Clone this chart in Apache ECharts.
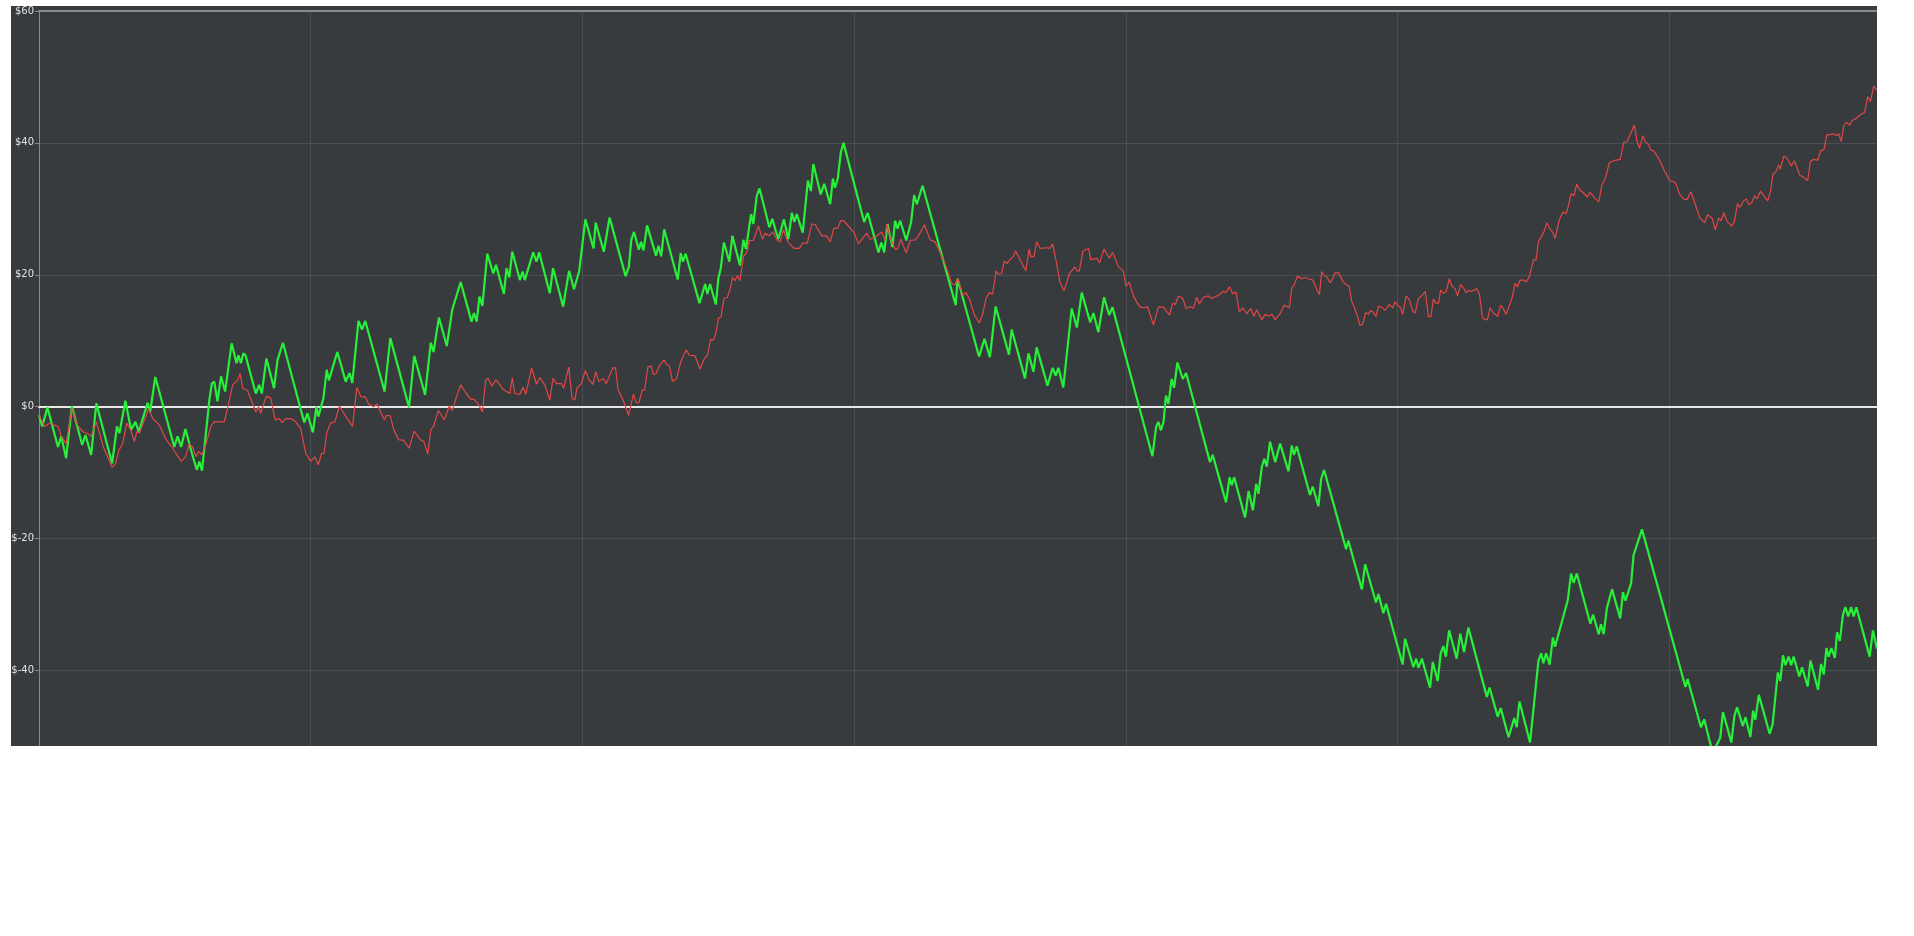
<!DOCTYPE html>
<html>
<head>
<meta charset="utf-8">
<title>Equity curves</title>
<script src="https://cdn.jsdelivr.net/npm/echarts@6/dist/echarts.min.js"></script>
<style>
    html, body { margin: 0; padding: 0; background: #ffffff; }
    #frame {
        position: absolute; left: 11px; top: 6px;
        width: 1866px; height: 740px;
        overflow: hidden; background: #383b3e;
    }
    #chart { width: 1870px; height: 820px; }
</style>
</head>
<body>
<div id="frame"><div id="chart"></div></div>
<script>
// y axis ticks ($)
var yTicks = [-60, -40, -20, 0, 20, 40, 60];

// green curve: turning points (bar index, value)
var greenIdx = [0, 1.2, 3.1, 7.0, 8.2, 10.0, 12.1, 15.9, 17.1, 19.2, 21.1, 26.9, 28.7, 29.6, 31.8, 33.9, 35.5, 36.7, 40.0, 40.9,
    42.8, 49.8, 51.0, 52.3, 53.9, 56.3, 58.1, 59.0, 60.0, 62.7, 63.6, 64.5, 65.7, 67.0, 68.5, 70.9, 72.7, 73.4, 74.3, 75.2,
    76.0, 79.8, 81.0, 82.0, 83.7, 86.5, 87.8, 89.8, 97.6, 98.8, 100.8, 102.1, 102.8, 104.7, 105.9, 106.7, 109.8, 112.9, 114.3, 115.3,
    117.6, 118.9, 120.1, 127.2, 129.3, 136.2, 138.1, 142.1, 144.2, 145.2, 147.2, 150.1, 152.1, 155.2, 159.2, 160.1, 161.1, 162.1, 163.2, 165.0,
    167.2, 168.2, 171.1, 172.1, 173.1, 174.2, 177.0, 178.0, 178.8, 181.9, 183.1, 184.1, 188.0, 189.2, 192.9, 195.1, 196.9, 198.8, 201.1, 204.1,
    204.9, 207.9, 210.0, 215.9, 217.1, 218.0, 219.0, 220.8, 221.6, 222.5, 223.8, 227.1, 228.0, 229.0, 230.1, 235.1, 236.2, 237.0, 238.0, 243.1,
    245.2, 246.0, 247.0, 249.1, 250.1, 250.9, 252.1, 254.1, 255.2, 258.0, 259.3, 260.2, 262.1, 262.9, 264.2, 265.2, 268.8, 269.9, 272.1, 274.2,
    275.8, 277.1, 278.0, 278.9, 281.1, 283.0, 284.1, 285.0, 287.7, 289.0, 291.2, 292.2, 293.0, 294.0, 295.1, 296.1, 303.7, 305.0, 309.0, 310.0,
    311.1, 312.3, 314.1, 315.1, 316.0, 317.0, 319.2, 321.0, 322.1, 323.1, 325.2, 337.4, 338.1, 346.0, 348.0, 350.0, 352.1, 357.0, 358.0, 362.9,
    364.2, 366.0, 367.2, 371.2, 373.1, 374.2, 375.2, 377.0, 380.1, 382.0, 383.8, 386.9, 388.1, 389.9, 392.0, 393.9, 395.1, 409.8, 411.2, 412.0,
    412.9, 413.9, 414.8, 415.7, 416.9, 417.8, 419.0, 421.0, 422.2, 431.0, 432.0, 436.9, 438.2, 439.0, 439.9, 443.9, 445.2, 446.8, 448.0, 448.8,
    450.1, 451.0, 451.9, 453.1, 455.0, 456.8, 459.9, 461.1, 461.9, 462.9, 467.8, 468.8, 470.9, 471.9, 473.0, 481.1, 481.9, 486.9, 488.1, 492.1,
    493.0, 494.8, 495.8, 501.9, 502.8, 505.9, 506.9, 507.7, 509.0, 512.0, 513.0, 514.8, 515.9, 516.9, 517.8, 519.0, 521.8, 523.1, 524.5, 526.1,
    532.9, 533.9, 536.9, 538.0, 540.9, 543.0, 543.9, 544.9, 548.8, 551.9, 552.9, 553.7, 554.7, 556.0, 557.2, 558.0, 562.7, 563.9, 564.8, 566.0,
    571.0, 572.0, 574.1, 574.9, 575.9, 577.1, 579.0, 582.0, 583.0, 583.9, 586.0, 586.9, 590.0, 606.0, 606.8, 611.7, 612.9, 616.0, 618.8, 619.8,
    622.9, 624.0, 625.0, 627.1, 628.1, 629.9, 630.9, 631.7, 633.0, 637.0, 638.1, 640.0, 640.9, 641.9, 642.8, 644.0, 644.9, 645.8, 647.9, 648.9,
    651.0, 652.0, 654.8, 655.9, 656.9, 657.9, 658.7, 659.7, 661.0, 661.8, 662.8, 664.0, 664.9, 665.9, 667.0, 667.9, 668.9, 673.8, 675.0, 676.5];
var greenVal = [-1.3, -3.0, -0.1, -6.1, -4.5, -7.8, 0.1, -5.8, -4.3, -7.3, 0.5, -8.6, -3.0, -4.0, 0.9, -3.5, -2.3, -3.8, 0.6, -0.8,
    4.5, -6.1, -4.5, -6.1, -3.4, -7.1, -9.6, -8.3, -9.7, 1.0, 3.5, 3.8, 0.8, 4.6, 2.3, 9.6, 6.6, 7.8, 6.6, 8.1,
    7.8, 2.0, 3.3, 2.0, 7.3, 2.8, 7.1, 9.7, -2.4, -1.0, -3.9, 0, -1.5, 1.3, 5.6, 4.0, 8.3, 3.8, 5.1, 3.6,
    13.0, 11.7, 13.0, 2.3, 10.4, -0.1, 7.7, 1.8, 9.7, 8.3, 13.5, 9.2, 14.7, 18.9, 12.9, 14.2, 12.9, 16.7, 15.3, 23.2,
    20.2, 21.5, 17.1, 21.0, 19.6, 23.5, 19.2, 20.5, 19.2, 23.4, 22.0, 23.4, 17.2, 21.0, 15.2, 20.6, 17.8, 20.5, 28.4, 24.0,
    27.9, 23.5, 28.7, 19.8, 21.2, 25.3, 26.5, 23.8, 25.0, 23.7, 27.5, 22.9, 24.4, 22.8, 26.9, 19.3, 23.3, 22.0, 23.2, 15.7,
    18.6, 17.1, 18.6, 15.5, 19.6, 20.9, 24.9, 22.0, 25.9, 21.4, 25.3, 23.9, 29.2, 27.7, 32.0, 33.1, 27.2, 28.5, 25.4, 28.4,
    25.4, 29.4, 28.0, 29.2, 26.4, 34.3, 32.7, 36.8, 32.2, 33.8, 30.7, 34.6, 33.2, 34.6, 38.5, 40.0, 28.0, 29.4, 23.4, 24.9,
    23.4, 27.7, 24.2, 28.2, 27.0, 28.2, 25.2, 28.0, 32.1, 30.7, 33.5, 15.4, 19.4, 7.6, 10.3, 7.5, 15.2, 7.9, 11.7, 4.3,
    8.1, 5.3, 9.0, 3.2, 5.9, 4.7, 5.9, 2.9, 14.9, 12.0, 17.3, 12.8, 14.2, 11.3, 16.6, 13.9, 15.1, -7.5, -3.0, -2.3,
    -3.6, -2.3, 1.7, 0.4, 4.2, 2.9, 6.7, 4.2, 5.1, -8.4, -7.3, -14.5, -10.7, -11.9, -10.7, -16.8, -12.8, -15.7, -11.7, -13.2,
    -9.1, -7.9, -9.1, -5.3, -8.4, -5.6, -9.8, -5.9, -7.3, -6.0, -13.4, -12.1, -15.1, -11.0, -9.6, -21.6, -20.3, -27.7, -23.9, -29.7,
    -28.4, -31.3, -29.9, -39.1, -35.2, -39.5, -38.2, -39.6, -38.2, -42.6, -38.7, -41.6, -37.4, -36.3, -37.9, -33.9, -38.2, -34.4, -37.2, -33.5,
    -44.0, -42.6, -47.0, -45.7, -50.1, -47.2, -48.6, -44.7, -50.9, -38.5, -37.4, -38.9, -37.4, -39.1, -35.0, -36.4, -29.3, -25.3, -26.7, -25.3,
    -32.9, -31.5, -34.5, -33.0, -34.5, -30.5, -27.7, -32.1, -28.1, -29.4, -26.8, -22.5, -18.6, -42.5, -41.3, -48.6, -47.4, -52.5, -50.2, -46.3,
    -50.9, -46.9, -45.6, -48.4, -47.1, -50.1, -46.1, -47.5, -43.7, -49.6, -48.1, -40.3, -41.6, -37.7, -39.2, -37.9, -39.2, -37.9, -40.9, -39.5,
    -42.4, -38.5, -42.9, -39.0, -40.6, -36.6, -37.9, -36.6, -38.1, -34.2, -35.5, -31.5, -30.4, -31.8, -30.4, -31.8, -30.4, -37.9, -33.9, -36.7];

// red curve: sampled points (bar index, value)
var redIdx = [0, 2.1, 3.9, 5.8, 7.0, 8.2, 8.8, 10.0, 12.1, 14.3, 16.2, 18.0, 19.2, 21.1, 23.7, 26.9, 28.2, 29.4, 30.8, 32.3,
    33.7, 35.1, 36.0, 37.0, 40.3, 41.9, 44.3, 46.8, 49.2, 52.3, 53.9, 55.3, 56.5, 57.8, 58.8, 60.0, 61.5, 63.3, 64.5, 65.7,
    68.2, 69.8, 71.3, 73.1, 74.0, 75.0, 76.7, 78.3, 79.8, 80.8, 81.6, 83.7, 85.3, 86.9, 88.4, 89.6, 90.8, 92.7, 94.5, 96.3,
    98.2, 100.0, 101.5, 102.8, 104.0, 104.9, 105.9, 107.3, 108.9, 110.6, 112.2, 115.4, 117.0, 118.5, 120.1, 121.3, 123.1, 124.4, 127.1, 128.0,
    129.3, 130.5, 132.3, 134.2, 136.2, 138.1, 140.3, 141.7, 143.1, 144.2, 145.2, 147.0, 149.2, 151.0, 152.1, 153.5, 155.2, 156.8, 158.9, 160.1,
    161.7, 163.2, 164.4, 165.4, 166.6, 168.2, 170.9, 173.3, 174.2, 175.1, 177.0, 178.2, 179.2, 181.3, 183.1, 184.3, 186.2, 188.0, 189.2, 190.5,
    192.3, 193.1, 195.0, 196.2, 197.2, 198.0, 199.6, 201.1, 202.4, 203.9, 204.9, 206.1, 207.6, 208.8, 211.2, 212.2, 213.1, 214.9, 217.0, 218.8,
    219.8, 220.8, 222.0, 222.9, 224.1, 225.3, 226.1, 227.1, 228.3, 230.1, 231.0, 232.0, 233.2, 234.7, 236.2, 238.2, 239.4, 241.5, 243.3, 244.9,
    246.0, 247.2, 248.2, 249.2, 250.1, 251.0, 252.1, 253.4, 254.4, 255.3, 256.2, 257.1, 258.0, 259.3, 260.5, 261.5, 262.9, 264.8, 266.3, 267.2,
    268.8, 270.1, 271.8, 272.8, 274.0, 275.6, 277.9, 279.9, 281.1, 282.8, 284.4, 285.7, 287.3, 288.1, 289.9, 291.2, 292.6, 293.9, 295.1, 296.1,
    297.9, 300.0, 301.6, 303.5, 304.7, 305.9, 307.7, 310.2, 311.4, 312.0, 313.5, 315.1, 316.0, 317.2, 319.2, 320.6, 322.5, 323.7, 325.9, 328.0,
    329.8, 331.7, 333.9, 336.0, 337.2, 338.1, 340.0, 341.2, 342.7, 344.2, 346.1, 347.3, 348.6, 349.8, 351.0, 352.3, 353.1, 354.3, 355.3, 356.2,
    357.4, 358.6, 359.5, 361.7, 363.2, 364.4, 365.1, 366.2, 367.2, 368.5, 371.2, 372.1, 373.1, 374.6, 375.8, 377.3, 379.3, 381.3, 382.0, 382.9,
    384.2, 386.3, 387.1, 389.3, 390.3, 392.0, 394.0, 395.2, 397.3, 399.1, 400.1, 401.3, 402.8, 404.0, 405.3, 407.1, 408.0, 410.2, 412.0, 413.9,
    416.1, 417.3, 418.2, 419.4, 421.0, 422.2, 423.7, 424.9, 426.1, 427.1, 428.6, 430.4, 431.7, 434.1, 436.0, 436.9, 438.2, 439.4, 440.6, 441.8,
    443.1, 444.5, 446.0, 447.2, 448.2, 450.1, 451.3, 452.5, 453.8, 455.0, 456.8, 458.3, 459.0, 460.2, 461.1, 461.9, 463.2, 464.8, 466.0, 467.2,
    468.8, 470.3, 471.3, 472.1, 473.0, 474.0, 475.2, 476.2, 477.0, 478.3, 479.9, 481.1, 482.2, 483.2, 484.1, 485.3, 486.2, 487.2, 488.3, 489.3,
    490.2, 491.1, 492.1, 493.0, 494.2, 495.4, 496.9, 498.3, 499.1, 500.0, 501.2, 501.9, 503.2, 504.4, 505.6, 506.5, 507.7, 508.9, 510.2, 511.4,
    512.3, 513.2, 514.2, 515.1, 515.9, 516.9, 517.9, 519.1, 520.0, 521.2, 522.1, 523.3, 524.3, 525.3, 526.1, 527.4, 529.2, 530.2, 531.3, 532.3,
    533.1, 534.1, 535.3, 536.9, 538.0, 538.8, 540.0, 542.1, 543.3, 544.2, 545.1, 546.4, 547.4, 548.6, 550.1, 551.0, 551.9, 553.1, 554.0, 555.0,
    556.2, 557.2, 558.0, 559.6, 560.9, 562.1, 562.9, 563.9, 565.0, 566.0, 567.0, 568.5, 569.9, 570.9, 572.5, 574.1, 575.3, 576.5, 578.0, 579.6,
    582.0, 583.3, 584.5, 585.7, 587.2, 588.2, 589.1, 590.3, 591.2, 592.5, 593.3, 594.3, 596.1, 598.0, 600.2, 602.3, 603.9, 605.3, 606.6, 608.0,
    609.6, 611.2, 613.0, 614.2, 615.8, 617.0, 618.2, 619.1, 620.1, 621.3, 623.1, 624.0, 625.2, 626.0, 627.4, 628.4, 629.3, 630.5, 631.4, 632.3,
    633.6, 634.8, 636.3, 637.3, 638.2, 639.5, 640.3, 640.9, 642.2, 643.4, 644.9, 646.1, 648.1, 649.5, 651.0, 652.0, 653.2, 654.7, 655.9, 656.9,
    658.1, 659.1, 660.3, 661.6, 662.4, 663.3, 664.3, 665.2, 666.5, 667.3, 668.5, 670.1, 671.9, 673.1, 674.1, 675.3, 676.5];
var redVal = [-1.3, -3.0, -2.5, -2.8, -3.0, -4.5, -4.3, -5.6, -0.3, -2.9, -3.8, -4.1, -4.5, -2.3, -6.1, -9.2, -8.6, -6.6, -5.6, -2.5,
    -3.5, -5.3, -3.8, -4.0, -0.3, -1.8, -2.8, -5.0, -6.3, -8.3, -7.6, -5.6, -6.1, -7.6, -6.8, -7.3, -5.6, -2.9, -2.3, -2.3,
    -2.3, 0.5, 3.3, 4.0, 5.0, 2.8, 2.5, 0.8, -0.8, 0, -1.0, 1.6, 1.3, -2.0, -1.8, -2.4, -1.8, -1.8, -2.3, -3.3,
    -7.1, -8.3, -7.6, -8.8, -7.1, -7.1, -4.0, -2.5, -2.3, 0.1, -1.0, -3.0, 2.9, 1.5, 1.5, 0.4, 0, 0.4, -2.0, -1.3,
    -1.4, -3.4, -5.0, -5.1, -6.3, -3.7, -5.0, -5.3, -7.2, -3.5, -3.0, -0.6, -2.0, 0.1, -0.6, 1.3, 3.3, 2.3, 1.1, 1.1,
    0.4, -0.8, 4.0, 4.3, 3.1, 4.1, 2.6, 2.0, 4.4, 2.0, 1.9, 3.0, 1.9, 5.9, 3.4, 4.4, 3.3, 1.0, 4.3, 3.5,
    3.5, 2.8, 6.0, 1.3, 1.0, 2.8, 3.5, 5.5, 4.1, 3.4, 5.3, 3.8, 4.3, 3.5, 5.9, 5.9, 2.6, 1.1, -1.3, 1.9,
    0.6, 0.6, 2.5, 2.5, 6.0, 6.2, 4.9, 5.0, 6.2, 7.1, 6.4, 6.2, 3.8, 4.3, 6.8, 8.6, 7.8, 7.7, 5.7, 7.3,
    7.8, 10.2, 10.1, 11.3, 13.4, 13.6, 16.4, 16.6, 17.9, 19.6, 19.1, 19.9, 19.1, 22.8, 23.4, 25.2, 25.2, 27.4, 25.4, 26.3,
    25.9, 26.5, 25.2, 25.0, 26.8, 25.0, 24.0, 24.0, 24.8, 24.8, 27.7, 27.6, 26.5, 25.9, 25.9, 25.0, 27.1, 27.0, 28.2, 28.2,
    27.4, 26.4, 24.7, 25.7, 26.3, 25.4, 25.7, 26.5, 25.3, 27.7, 25.4, 23.9, 23.9, 25.4, 23.3, 25.2, 25.3, 25.9, 27.6, 25.3,
    25.0, 23.4, 21.2, 18.6, 18.5, 19.5, 16.9, 17.3, 16.1, 14.0, 12.7, 14.0, 16.5, 17.3, 17.1, 20.6, 20.1, 20.2, 22.1, 21.7,
    22.3, 22.8, 23.6, 21.8, 20.6, 23.9, 22.7, 22.8, 25.0, 24.0, 24.1, 24.0, 24.7, 21.6, 18.8, 17.6, 20.2, 21.2, 20.6, 20.6,
    23.6, 24.0, 22.3, 22.5, 21.8, 23.9, 22.5, 23.4, 21.2, 20.6, 18.3, 18.9, 16.8, 15.9, 15.1, 15.0, 15.2, 12.4, 15.1, 15.1,
    13.9, 15.7, 15.5, 16.8, 16.4, 14.9, 15.2, 14.9, 16.6, 15.6, 16.6, 16.8, 16.4, 16.9, 17.5, 17.3, 18.2, 17.1, 17.4, 14.4,
    15.0, 14.1, 14.9, 13.7, 14.7, 13.2, 14.0, 13.7, 14.0, 13.2, 14.1, 15.4, 15.5, 15.0, 18.0, 18.4, 19.8, 19.4, 19.6, 19.4,
    19.2, 17.8, 17.0, 20.5, 19.9, 19.7, 18.8, 19.4, 20.3, 20.3, 19.0, 18.5, 18.3, 15.9, 15.1, 13.7, 12.3, 12.5, 14.3, 14.0,
    14.6, 14.3, 13.7, 15.2, 15.1, 14.6, 15.5, 15.0, 15.9, 15.4, 15.0, 14.0, 16.8, 16.2, 14.5, 14.2, 16.4, 16.8, 17.5, 13.7,
    13.6, 16.3, 15.7, 15.7, 17.7, 17.2, 17.4, 19.4, 18.3, 17.9, 16.8, 18.5, 18.0, 17.3, 17.6, 17.5, 17.9, 17.0, 13.5, 13.2,
    13.2, 15.0, 14.2, 13.7, 15.4, 15.0, 14.0, 16.4, 18.7, 18.2, 19.2, 19.2, 18.9, 19.8, 22.3, 22.2, 25.1, 25.9, 26.6, 27.9,
    26.9, 26.4, 25.5, 28.4, 29.5, 29.3, 30.4, 32.3, 32.0, 33.8, 32.9, 32.4, 31.8, 32.5, 31.7, 31.1, 33.7, 34.6, 37.0, 37.3,
    37.5, 40.1, 40.2, 41.3, 42.7, 40.2, 39.2, 41.1, 40.2, 39.7, 38.9, 38.8, 37.7, 36.0, 34.3, 34.0, 32.2, 31.5, 31.4, 32.6,
    30.7, 28.7, 27.9, 29.1, 28.6, 26.8, 28.6, 28.2, 29.4, 28.1, 27.4, 28.1, 30.8, 30.2, 31.2, 31.5, 30.6, 31.0, 32.0, 31.5,
    32.7, 32.0, 31.2, 32.7, 35.2, 35.8, 36.7, 36.0, 38.0, 37.7, 36.5, 37.3, 35.1, 34.8, 34.3, 37.2, 37.5, 37.4, 38.9, 38.9,
    41.3, 41.2, 41.4, 41.1, 41.4, 40.2, 42.6, 43.1, 42.7, 43.4, 43.6, 44.2, 44.6, 47.0, 46.3, 48.6, 48.0];

var xMax = 676.5;

function pairs(xs, ys) {
    var out = [];
    for (var i = 0; i < xs.length; i++) {
        out.push([xs[i], ys[i]]);
    }
    return out;
}

var chart = echarts.init(document.getElementById('chart'));

var option = {
    animation: false,
    backgroundColor: 'transparent',
    grid: {
        left: 28,
        top: 5,
        right: 4,
        height: 791.4,
        outerBoundsMode: 'none'   // keep the plot where it is, labels may hang out
    },
    xAxis: [{
        type: 'value',
        min: 0,
        max: xMax,
        interval: 100,
        axisLine: {
            onZero: true,
            lineStyle: { color: '#e8e8e8', width: 2 }   // the $0 line
        },
        axisTick: { show: false },
        axisLabel: { show: false },
        splitLine: { lineStyle: { color: '#4b4e52', width: 1 } }
    }, {
        type: 'value',
        position: 'top',
        min: 0,
        max: xMax,
        axisLine: {
            onZero: false,
            lineStyle: { color: '#8a8a8a', width: 2 }   // top border
        },
        axisTick: { show: false },
        axisLabel: { show: false },
        splitLine: { show: false }
    }],
    yAxis: {
        type: 'value',
        min: yTicks[0],
        max: yTicks[yTicks.length - 1],
        interval: 20,
        axisLine: {
            show: true,
            onZero: false,
            lineStyle: { color: '#8a8a8a', width: 1 }
        },
        axisTick: {
            show: true,
            length: 4,
            lineStyle: { color: '#8a8a8a' }
        },
        axisLabel: {
            color: '#e2e2e2',
            fontSize: 10,
            fontFamily: 'DejaVu Sans',
            margin: 5,
            formatter: function (v) { return '$' + v; }
        },
        splitLine: { lineStyle: { color: '#4b4e52', width: 1 } }
    },
    series: [{
        name: 'green',
        type: 'line',
        showSymbol: false,
        silent: true,
        data: pairs(greenIdx, greenVal),
        lineStyle: { color: '#27ef3a', width: 2.2 }
    }, {
        name: 'red',
        type: 'line',
        showSymbol: false,
        silent: true,
        data: pairs(redIdx, redVal),
        lineStyle: { color: '#e24646', width: 1.2 }
    }]
};
chart.setOption(option);
</script>
</body>
</html>
